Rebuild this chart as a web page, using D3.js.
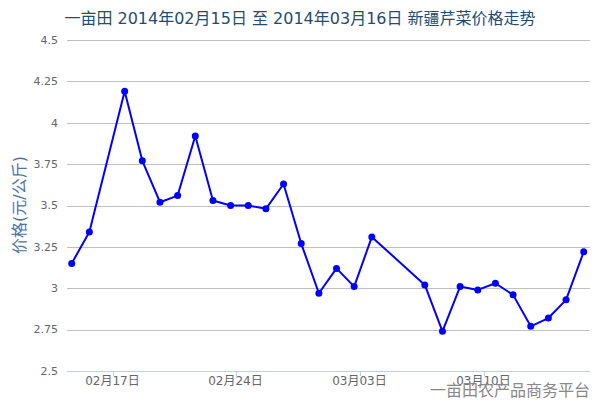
<!DOCTYPE html>
<html><head><meta charset="utf-8">
<script src="https://cdn.jsdelivr.net/npm/d3@7"></script>
<style>
html,body{margin:0;padding:0;background:#fff;}
svg{display:block;font-family:"DejaVu Sans","Noto Sans CJK SC",sans-serif;}
</style></head>
<body>
<svg id="chart" width="600" height="400"></svg>
<script>
const titleText = "一亩田 2014年02月15日 至 2014年03月16日 新疆芹菜价格走势";
const yTitle = "价格(元/公斤)";
const watermark = "一亩田农产品商务平台";
const dates = ["2014-02-15","2014-02-16","2014-02-18","2014-02-19","2014-02-20","2014-02-21","2014-02-22","2014-02-23","2014-02-24","2014-02-25","2014-02-26","2014-02-27","2014-02-28","2014-03-01","2014-03-02","2014-03-03","2014-03-04","2014-03-07","2014-03-08","2014-03-09","2014-03-10","2014-03-11","2014-03-12","2014-03-13","2014-03-14","2014-03-15","2014-03-16"];
const prices = [3.15,3.34,4.19,3.77,3.52,3.56,3.92,3.53,3.50,3.50,3.48,3.63,3.27,2.97,3.12,3.01,3.31,3.02,2.74,3.01,2.99,3.03,2.96,2.77,2.82,2.93,3.22];
const yTicks = [2.5,2.75,3,3.25,3.5,3.75,4,4.25,4.5];
const xTickDates = ["2014-02-17","2014-02-24","2014-03-03","2014-03-10"];
const xTickLabels = ["02月17日","02月24日","03月03日","03月10日"];

const parse = d3.utcParse("%Y-%m-%d");
const data = dates.map((d,i)=>({date:parse(d), value:prices[i]}));

const svg = d3.select("#chart");
const plotL = 67, plotR = 590, plotT = 40, plotB = 371;

const x = d3.scaleUtc().domain([parse("2014-02-15"), parse("2014-03-16")]).range([71.7, 583.7]);
const y = d3.scaleLinear().domain([2.5, 4.5]).range([plotB, plotT]);

// gridlines
svg.append("g").selectAll("line").data(yTicks.filter(t=>t!==2.5)).join("line")
  .attr("x1", plotL).attr("x2", plotR)
  .attr("y1", d=>Math.round(y(d))+0.5).attr("y2", d=>Math.round(y(d))+0.5)
  .attr("stroke", "#c0c0c0").attr("stroke-width", 1);

// y axis labels
svg.append("g").selectAll("text").data(yTicks).join("text")
  .attr("x", 58).attr("y", d=>y(d)).attr("dy","0.35em")
  .attr("text-anchor","end").attr("font-size", 11).attr("fill", "#666")
  .text(d=>d);

// x axis line
svg.append("line").attr("x1", plotL).attr("x2", plotR)
  .attr("y1", plotB+0.5).attr("y2", plotB+0.5)
  .attr("stroke", "#c0d0e0").attr("stroke-width", 1);

// x ticks (offset by local timezone hours)
const tickX = d => Math.round(x(d3.utcHour.offset(parse(d), 8)))+0.5;
svg.append("g").selectAll("line").data(xTickDates).join("line")
  .attr("x1", tickX).attr("x2", tickX)
  .attr("y1", plotB).attr("y2", plotB+5)
  .attr("stroke", "#c0d0e0").attr("stroke-width", 1);
svg.append("g").selectAll("text").data(xTickDates).join("text")
  .attr("x", d=>tickX(d)-1).attr("y", 385)
  .attr("text-anchor","middle").attr("font-size", 12).attr("fill", "#666")
  .text((d,i)=>xTickLabels[i]);

// line
const line = d3.line().x(d=>x(d.date)).y(d=>y(d.value));
svg.append("path").datum(data).attr("d", line)
  .attr("fill","none").attr("stroke","#0000ff").attr("stroke-width",2)
  .attr("stroke-linejoin","round");
svg.append("g").selectAll("circle").data(data).join("circle")
  .attr("cx", d=>x(d.date)).attr("cy", d=>y(d.value)).attr("r", 3.5)
  .attr("fill","#0000ff");

// title
svg.append("text").attr("x", 300).attr("y", 24).attr("text-anchor","middle")
  .attr("font-size", 16).attr("fill", "#274b6d").text(titleText);

// y title
svg.append("text").attr("transform","translate(25,205) rotate(-90)")
  .attr("text-anchor","middle").attr("font-size", 16).attr("fill","#4d759e")
  .text(yTitle);

// watermark
svg.append("text").attr("x", 590).attr("y", 396).attr("text-anchor","end")
  .attr("font-size", 16).attr("fill","#888").text(watermark);
</script>
</body></html>
